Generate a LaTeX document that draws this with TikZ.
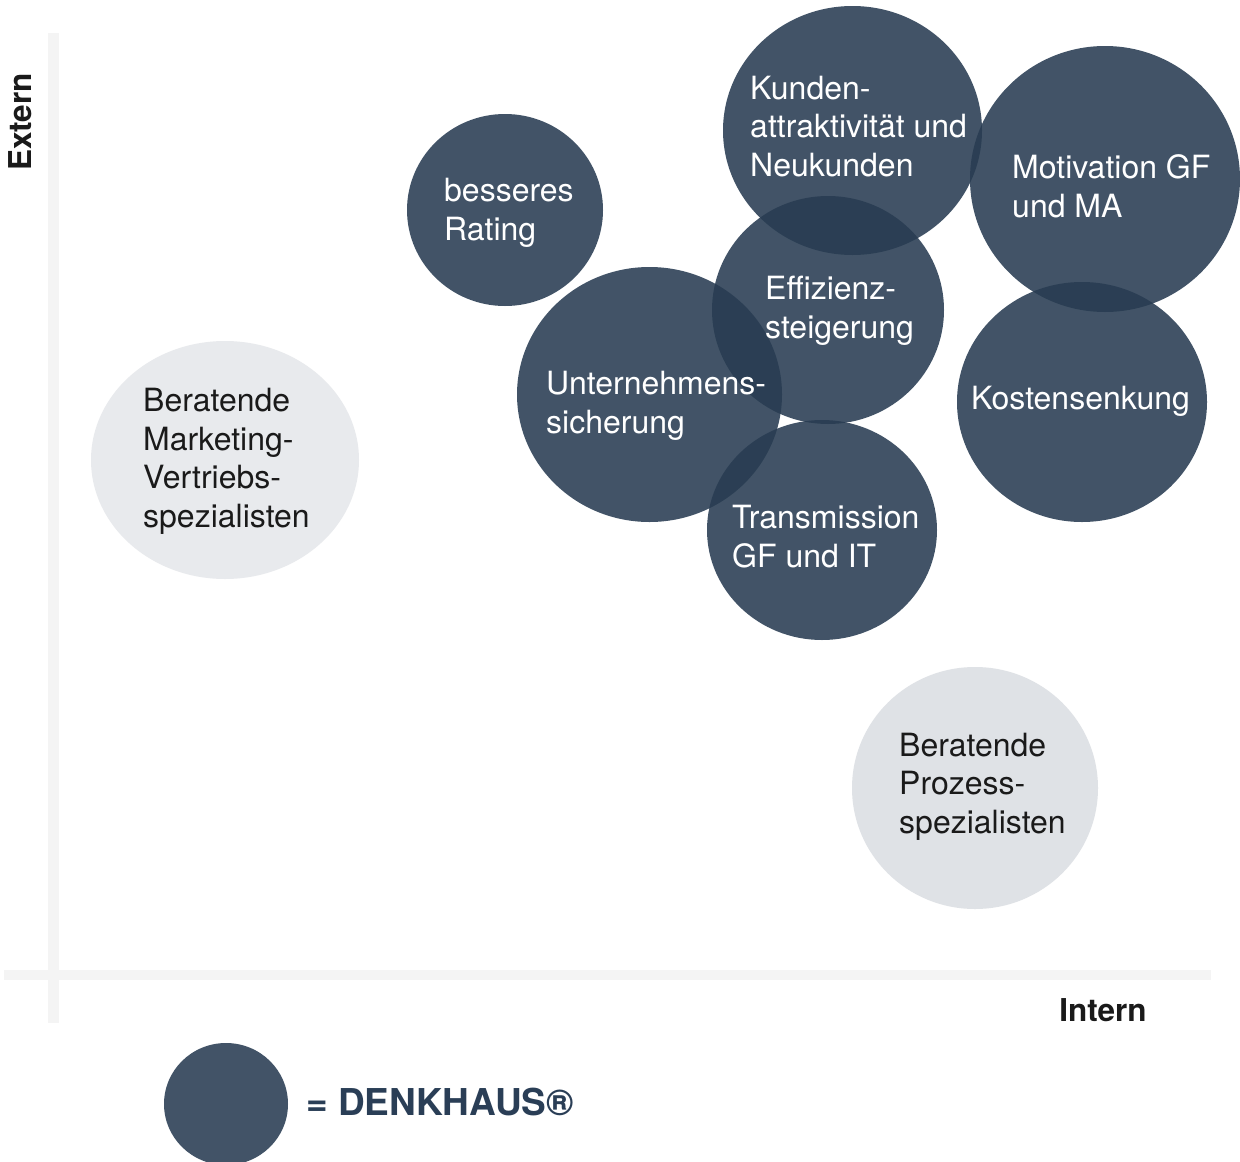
\documentclass[tikz,border=0pt]{standalone}
\usepackage{fontspec}
\setmainfont{TeX Gyre Heros}
\usetikzlibrary{shapes.geometric}
\definecolor{dkbase}{RGB}{40,60,82}
\definecolor{axisgrey}{RGB}{244,244,244}
\definecolor{lightA}{RGB}{232,234,237}
\definecolor{lightB}{RGB}{223,226,230}
\definecolor{txtdark}{RGB}{26,26,26}
\definecolor{navy}{RGB}{42,62,86}
\tikzset{
  dk/.style={ellipse, fill=dkbase, fill opacity=0.88, draw=none, inner sep=0pt},
  lt/.style={ellipse, draw=none, inner sep=0pt},
  wtxt/.style={text=white, anchor=base west, align=left, inner sep=0pt, font=\fontsize{32}{38.5}\selectfont},
  btxt/.style={text=txtdark, anchor=base west, align=left, inner sep=0pt, font=\fontsize{32}{38.5}\selectfont},
  axlabel/.style={text=txtdark, inner sep=0pt, font=\fontsize{31.5}{36}\selectfont\bfseries}
}
\begin{document}
\begin{tikzpicture}[x=1pt,y=-1pt]
\useasboundingbox (0,0) rectangle (1240,1162);
\fill[white] (0,0) rectangle (1240,1162);
% axes
\fill[axisgrey] (48,33) rectangle (59,1023);
\fill[axisgrey] (4,970) rectangle (1211,980);
% light circles
\node[lt, fill=lightA, minimum width=268pt, minimum height=238pt] (mkt) at (225,460) {};
\node[lt, fill=lightB, minimum width=246pt, minimum height=242pt] (proz) at (975,788) {};
% dark circles
\node[dk, minimum width=196pt, minimum height=192pt] (rating) at (505,210) {};
\node[dk, minimum width=259pt, minimum height=249pt] (kunden) at (852.5,130.5) {};
\node[dk, minimum width=270pt, minimum height=266pt] (motiv) at (1105,179) {};
\node[dk, minimum width=232pt, minimum height=228pt] (effiz) at (828,310) {};
\node[dk, minimum width=265pt, minimum height=255pt] (untern) at (649.5,394.5) {};
\node[dk, minimum width=250pt, minimum height=240pt] (kosten) at (1082,402) {};
\node[dk, minimum width=230pt, minimum height=220pt] (trans) at (822,530) {};
\node[dk, minimum width=124pt, minimum height=122pt] (legend) at (226,1104) {};
% texts (anchor = baseline of the last line)
\node[wtxt] (trating) at (444,240) {besseres\\Rating};
\node[wtxt] (tkunden) at (750,176) {Kunden-\\attraktivität und\\Neukunden};
\node[wtxt] (tmotiv) at (1012,217) {Motivation GF\\und MA};
\node[wtxt] (teffiz) at (765,338) {Effizienz-\\steigerung};
\node[wtxt] (tuntern) at (546,433) {Unternehmens-\\sicherung};
\node[wtxt] (tkosten) at (971,409) {Kostensenkung};
\node[wtxt] (ttrans) at (732,567) {Transmission\\GF und IT};
\node[btxt] (tmkt) at (143,527) {Beratende\\Marketing-\\Vertriebs-\\spezialisten};
\node[btxt] (tproz) at (899,833) {Beratende\\Prozess-\\spezialisten};
% axis labels
\node[axlabel, rotate=90] (extern) at (20,122) {Extern};
\node[axlabel] (intern) at (1103,1010) {Intern};
% legend text
\node[anchor=west, inner sep=0pt, text=navy, font=\fontsize{37}{40}\selectfont\bfseries] (denk) at (306,1102) {= DENKHAUS®};
\end{tikzpicture}
\end{document}
